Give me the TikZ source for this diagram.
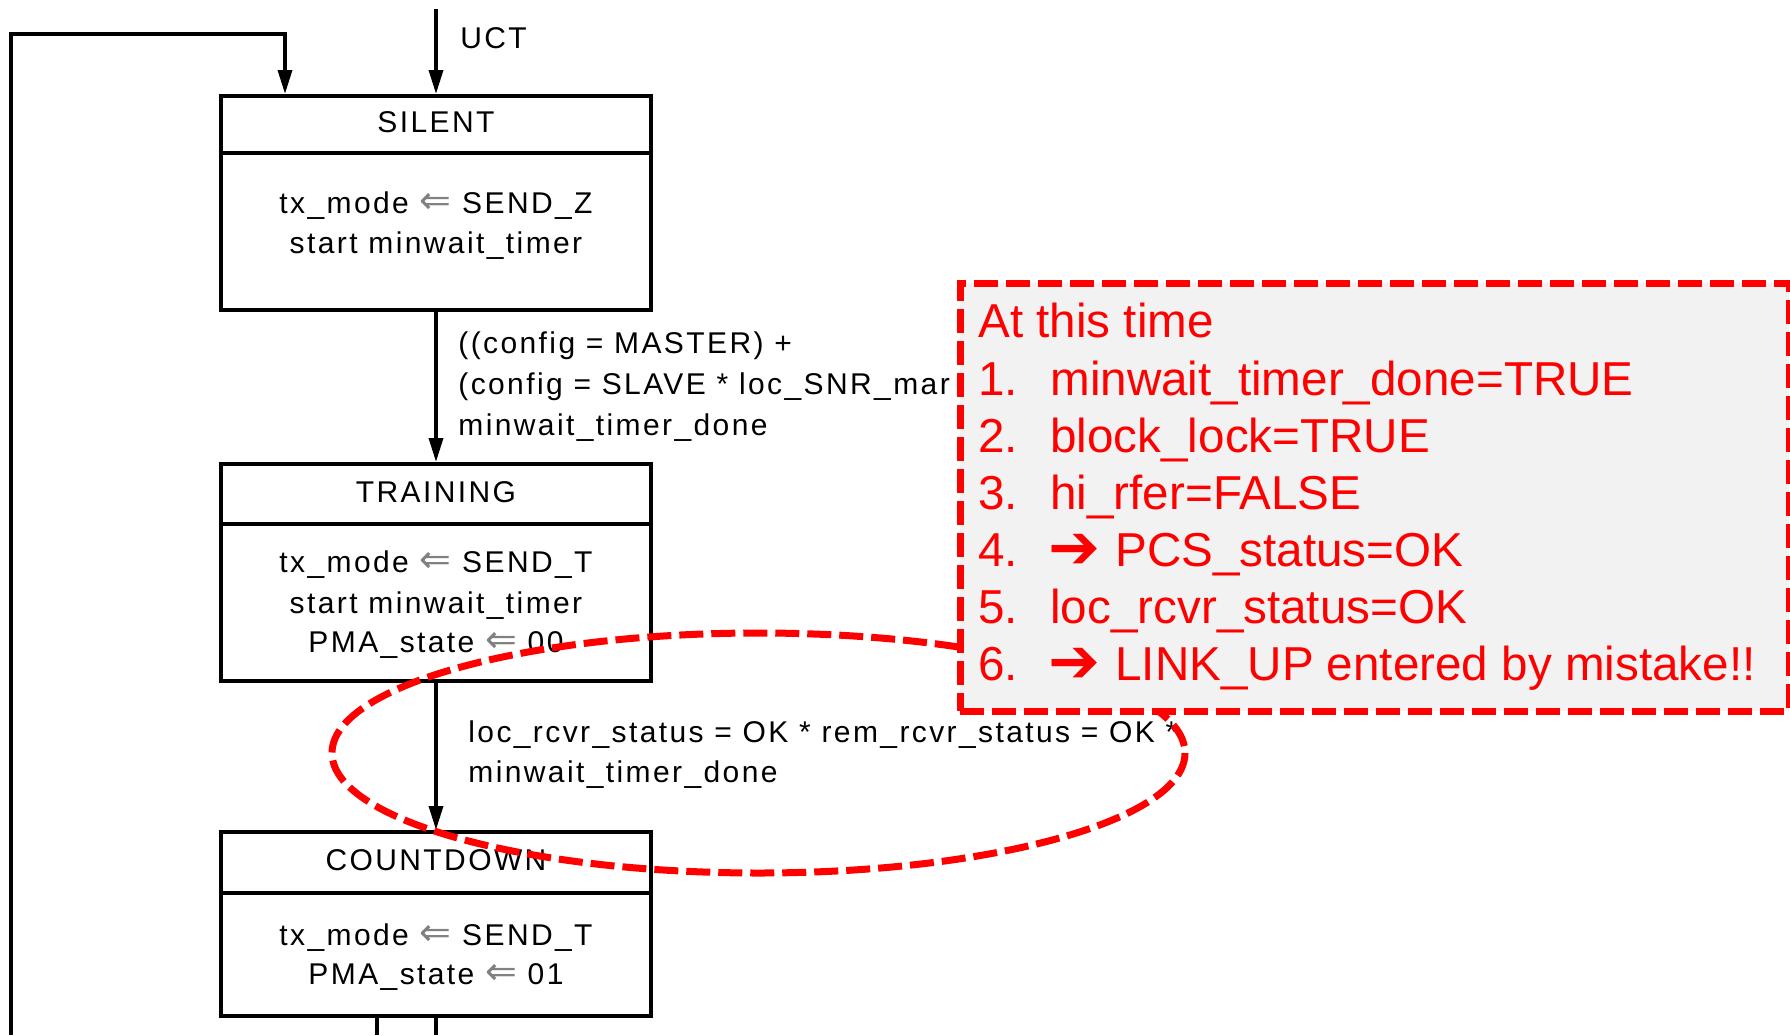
\documentclass[tikz,border=0pt]{standalone}
\usepackage{fontspec}
\setmainfont{Liberation Sans}
\newfontfamily\blk[LetterSpace=8]{Liberation Sans}
\newfontfamily\sym{DejaVu Sans}
\usetikzlibrary{arrows.meta}

\definecolor{notered}{RGB}{255,0,0}
\definecolor{notefill}{RGB}{242,242,242}

\newcommand\getsarrow{{\fontsize{19pt}{19pt}\sym\color{black!50}⇐}}
\newcommand\implarrow{{\fontsize{31pt}{31pt}\sym ➔}}

\tikzset{
  wire/.style={line width=1.75pt},
  flow/.style={wire, -{Triangle[length=12pt,width=7pt]}},
  statebox/.style={draw, line width=1.75pt, minimum width=215pt, anchor=north, inner sep=0pt},
  lbl/.style={font=\blk\fontsize{15pt}{20pt}\selectfont, inner sep=0pt, anchor=base},
  cond/.style={lbl, anchor=base west},
  notetext/.style={font=\fontsize{23.8pt}{28pt}\selectfont, text=notered, inner sep=0pt, anchor=base west},
  mark line/.style={draw=notered, line width=3.5pt, dash pattern=on 12pt off 4pt},
}

\begin{document}
\begin{tikzpicture}[x=0.5pt,y=-0.5pt]
\useasboundingbox (0,0) rectangle (1790,1035);

% state boxes with their header dividers
\node[statebox, minimum height=107pt] (silent) at (436,94) {};
\draw[wire] ([yshift=-29.5pt]silent.north west) -- ([yshift=-29.5pt]silent.north east);
\node[statebox, minimum height=108.5pt] (training) at (436,462) {};
\draw[wire] ([yshift=-31pt]training.north west) -- ([yshift=-31pt]training.north east);
\node[statebox, minimum height=92pt] (countdown) at (436,830) {};
\draw[wire] ([yshift=-31.5pt]countdown.north west) -- ([yshift=-31.5pt]countdown.north east);

% state names and actions
\node[lbl] (silentname) at (436,132) {SILENT};
\node[lbl] (silenta) at (436,213) {tx\_mode \getsarrow{} SEND\_Z};
\node[lbl] (silentb) at (436,253) {start minwait\_timer};

\node[lbl] (trainingname) at (436,502) {TRAINING};
\node[lbl] (traininga) at (436,572) {tx\_mode \getsarrow{} SEND\_T};
\node[lbl] (trainingb) at (436,613) {start minwait\_timer};
\node[lbl] (trainingc) at (436,652) {PMA\_state \getsarrow{} 00};

\node[lbl] (countdownname) at (436,870) {COUNTDOWN};
\node[lbl] (countdowna) at (436,945) {tx\_mode \getsarrow{} SEND\_T};
\node[lbl] (countdownb) at (436,984) {PMA\_state \getsarrow{} 01};

% entry transitions
\coordinate (uctin) at (436,9);
\draw[flow] (uctin) -- (silent.north);
\node[cond] (uct) at (460,48) {UCT};
\coordinate (loopin) at (11,1035);
\coordinate (loopx) at (285,34);
\draw[flow] (loopin) |- (loopx) -- (loopx |- silent.north);

% transitions between states
\draw[flow] (silent.south) -- (training.north);
\node[cond] (conda) at (458,353) {((config = MASTER) +};
\node[cond] (condb) at (458,394) {(config = SLAVE * loc\_SNR\_mar};
\node[cond] (condc) at (458,435) {minwait\_timer\_done};

\draw[flow] (training.south) -- (countdown.north);
\node[cond] (condd) at (468,742) {loc\_rcvr\_status = OK * rem\_rcvr\_status = OK *};
\node[cond] (conde) at (468,782) {minwait\_timer\_done};

% exits below the countdown state
\coordinate (outa) at (436,1035);
\coordinate (outb) at (377,1035);
\draw[wire] (countdown.south) -- (outa);
\draw[wire] (countdown.south -| outb) -- (outb);

% highlighted transition
\draw[mark line] (758.5,753) ellipse [x radius=426.5, y radius=120];

% note box
\node[draw=notered, fill=notefill, line width=3.25pt, dash pattern=on 12pt off 4pt,
      minimum width=414.5pt, minimum height=214pt, anchor=north west, inner sep=0pt]
      (note) at (957,280) {};
\node[notetext] (notehead) at (978,337) {At this time};
\node[notetext] (n1) at (978,395) {1.};
\node[notetext] (l1) at (1050,395) {minwait\_timer\_done=TRUE};
\node[notetext] (n2) at (978,452) {2.};
\node[notetext] (l2) at (1050,452) {block\_lock=TRUE};
\node[notetext] (n3) at (978,509) {3.};
\node[notetext] (l3) at (1050,509) {hi\_rfer=FALSE};
\node[notetext] (n4) at (978,566) {4.};
\node[notetext] (a4) at (1048,568) {\implarrow};
\node[notetext] (l4) at (1115,566) {PCS\_status=OK};
\node[notetext] (n5) at (978,623) {5.};
\node[notetext] (l5) at (1050,623) {loc\_rcvr\_status=OK};
\node[notetext] (n6) at (978,680) {6.};
\node[notetext] (a6) at (1048,682) {\implarrow};
\node[notetext] (l6) at (1115,680) {LINK\_UP entered by mistake!!};
\end{tikzpicture}
\end{document}
